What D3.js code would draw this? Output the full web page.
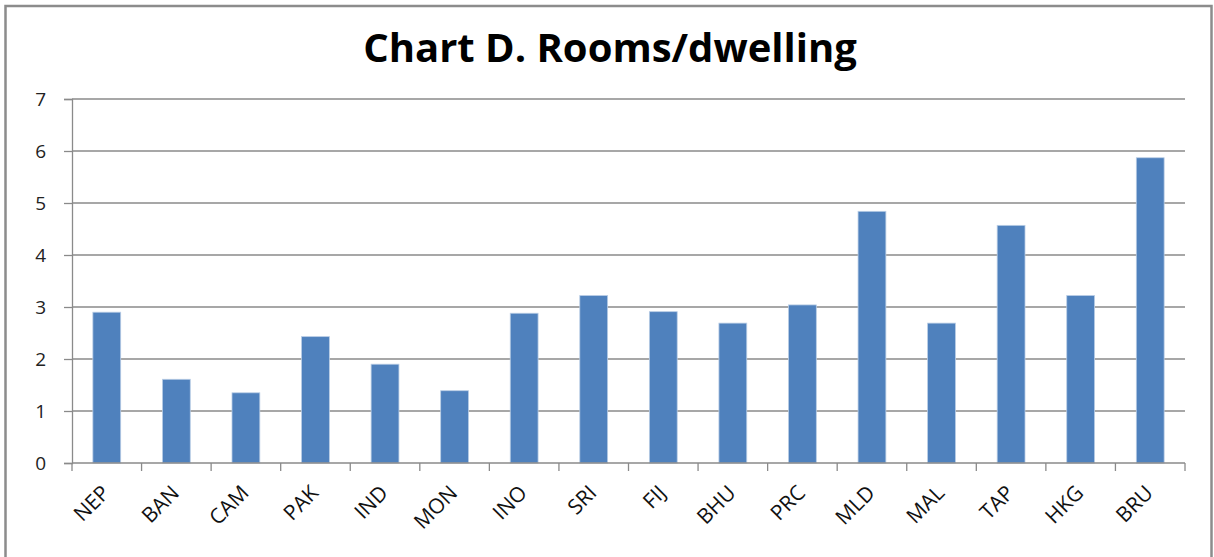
<!DOCTYPE html>
<html>
<head>
<meta charset="UTF-8">
<title>Chart D. Rooms/dwelling</title>
<script src="https://d3js.org/d3.v7.min.js"></script>
<style>
  body { margin: 0; background: #fff; }
  svg { display: block; }
</style>
</head>
<body>
<svg id="chart" width="1214" height="557"></svg>
<script>
var categories = ["NEP", "BAN", "CAM", "PAK", "IND", "MON", "INO", "SRI",
                  "FIJ", "BHU", "PRC", "MLD", "MAL", "TAP", "HKG", "BRU"];
var values = [2.90, 1.61, 1.35, 2.43, 1.90, 1.39, 2.88, 3.22,
              2.91, 2.69, 3.04, 4.84, 2.69, 4.57, 3.22, 5.87];
var yTicks = [0, 1, 2, 3, 4, 5, 6, 7];
var title = "Chart D. Rooms/dwelling";

var svg = d3.select("#chart");
var plotLeft = 72, plotRight = 1185, plotTop = 99, plotBottom = 463;

// outer frame
svg.append("rect")
    .attr("x", 5.5).attr("y", 6).attr("width", 1206).attr("height", 580)
    .attr("fill", "none").attr("stroke", "#8c8c8c").attr("stroke-width", 2.5);

svg.append("text")
    .attr("x", 610).attr("y", 62)
    .attr("text-anchor", "middle")
    .attr("font-family", "Open Sans, sans-serif")
    .attr("font-weight", "bold")
    .attr("font-size", "40px")
    .attr("fill", "#000")
    .text(title);

var x = d3.scaleBand().domain(categories).range([plotLeft, plotRight])
    .paddingInner(0.6).paddingOuter(0.3);
var xStep = d3.scaleBand().domain(categories).range([plotLeft, plotRight]).padding(0);
var y = d3.scaleLinear().domain([0, 7]).range([plotBottom, plotTop]);

// gridlines
svg.append("g").selectAll("line").data(yTicks.slice(1)).enter().append("line")
    .attr("x1", plotLeft).attr("x2", plotRight)
    .attr("y1", function (d) { return y(d); })
    .attr("y2", function (d) { return y(d); })
    .attr("stroke", "#8a8a8a").attr("stroke-width", 1.3);

// y axis
var yAxis = svg.append("g").attr("transform", "translate(" + plotLeft + ",0)")
    .call(d3.axisLeft(y).tickValues(yTicks).tickSize(8).tickPadding(18).tickFormat(d3.format("d")));
yAxis.select(".domain").attr("stroke", "#8a8a8a").attr("stroke-width", 1.3);
yAxis.selectAll(".tick line").attr("stroke", "#8a8a8a").attr("stroke-width", 1.3);
yAxis.selectAll(".tick text")
    .attr("font-family", "Open Sans, sans-serif").attr("font-size", "19px").attr("fill", "#222");

// bars
svg.append("g").selectAll("rect").data(values).enter().append("rect")
    .attr("x", function (d, i) { return x(categories[i]); })
    .attr("y", function (d) { return y(d); })
    .attr("width", x.bandwidth())
    .attr("height", function (d) { return plotBottom - y(d); })
    .attr("fill", "#4f81bd")
    .attr("stroke", "#b9cde5").attr("stroke-width", 0.8);

// x axis
var xAxis = svg.append("g").attr("transform", "translate(0," + plotBottom + ")");
xAxis.append("line").attr("x1", plotLeft).attr("x2", plotRight)
    .attr("stroke", "#8a8a8a").attr("stroke-width", 1.3);
var bounds = categories.map(function (c) { return xStep(c); }).concat([plotRight]);
xAxis.selectAll("line.tk").data(bounds).enter().append("line")
    .attr("class", "tk")
    .attr("x1", function (d) { return d; }).attr("x2", function (d) { return d; })
    .attr("y1", 0).attr("y2", 8)
    .attr("stroke", "#8a8a8a").attr("stroke-width", 1.3);
xAxis.selectAll("text").data(categories).enter().append("text")
    .attr("transform", function (d) {
        return "translate(" + (x(d) + x.bandwidth() / 2 - 1) + ",26) rotate(-45)";
    })
    .attr("text-anchor", "end")
    .attr("dy", "0.35em")
    .attr("font-family", "Open Sans, sans-serif")
    .attr("font-size", "21px")
    .attr("fill", "#111")
    .text(function (d) { return d; });
</script>
</body>
</html>
